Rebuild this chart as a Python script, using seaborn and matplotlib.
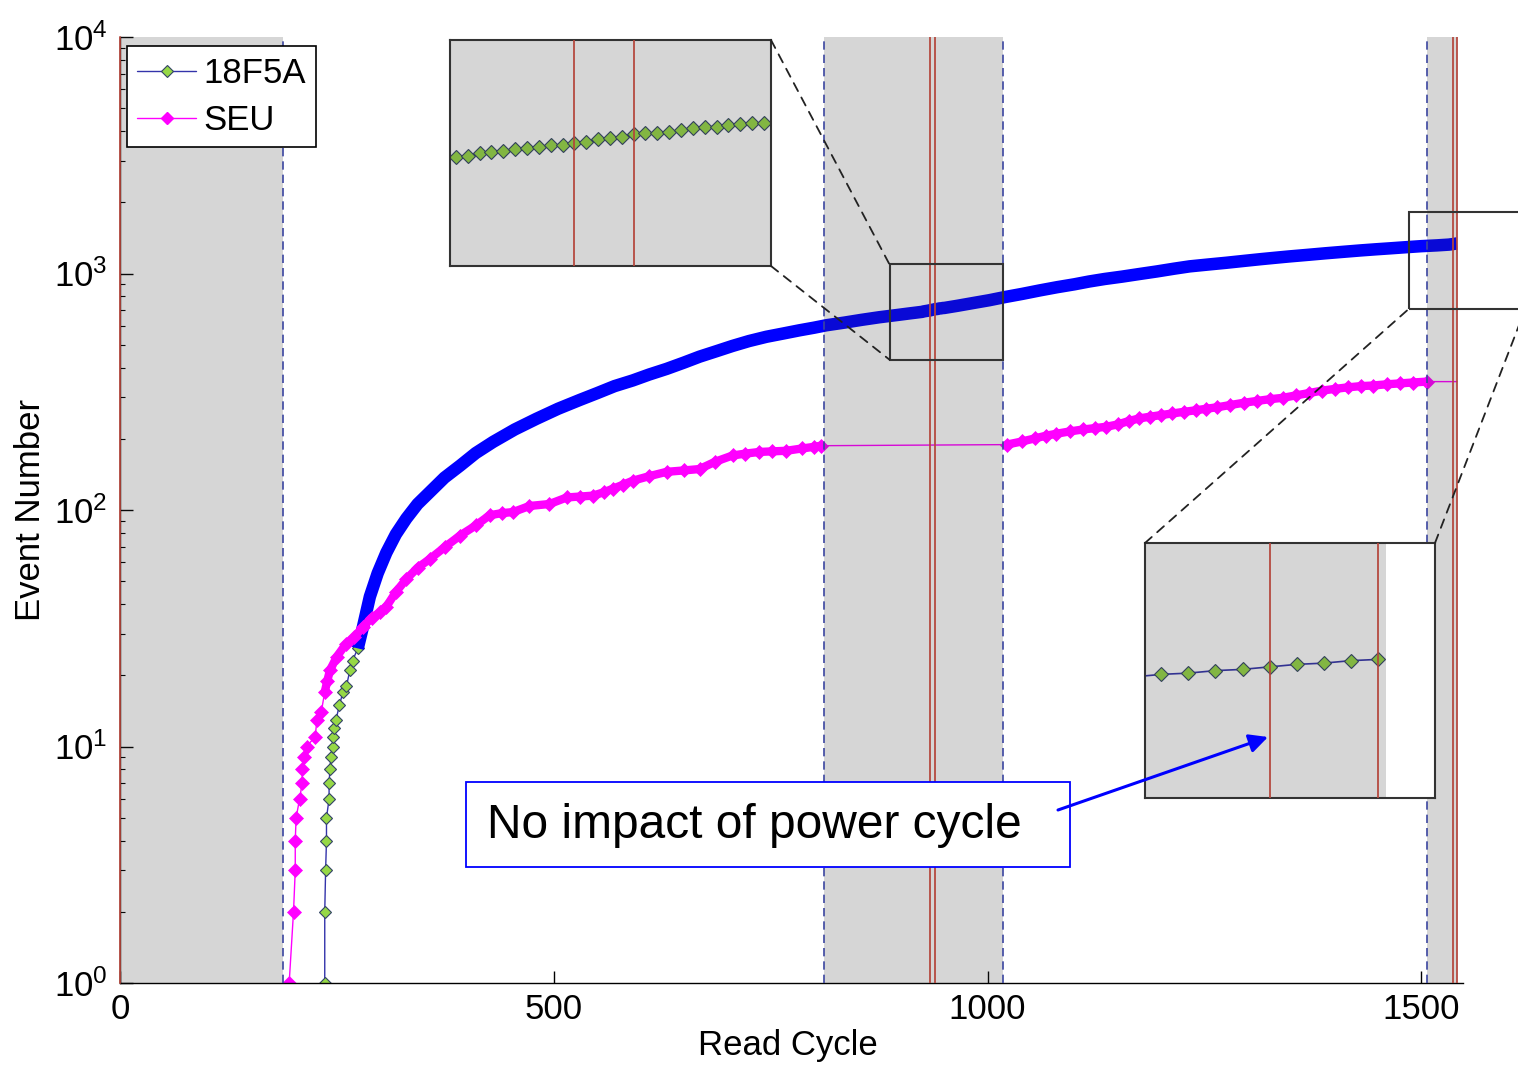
import numpy as np
import pandas as pd
import seaborn as sns
import matplotlib.pyplot as plt
from matplotlib.lines import Line2D
from matplotlib.patches import Rectangle, ConnectionPatch, FancyArrowPatch

sns.set_style("ticks")
plt.rcParams["font.family"] = ["Liberation Sans", "DejaVu Sans"]
plt.rcParams["mathtext.fontset"] = "custom"
plt.rcParams["mathtext.rm"] = "Liberation Sans"
plt.rcParams["mathtext.it"] = "Liberation Sans:italic"
for k in ["text.color", "axes.labelcolor", "xtick.color", "ytick.color"]:
    plt.rcParams[k] = "black"

# 18F5A: cumulative event number per read cycle
f5a_cycle = [236, 236, 237, 238, 238, 241, 241, 242, 243, 245, 246, 247, 249, 253, 257, 261, 265, 268, 274,
             280, 288, 297, 307, 318, 330, 343, 357, 374, 392, 410, 430, 455, 480, 505, 530, 550, 570, 591,
             610, 630, 650, 668, 688, 706, 725, 745, 765, 783, 800, 814, 835, 855, 875, 895, 910,
             924, 925, 926, 927, 928, 929, 930, 931, 932, 933, 934, 935, 936, 937, 938, 939, 940, 941,
             942, 943, 944, 945, 946, 947, 948, 949, 950,
             965, 985, 1002, 1020, 1040, 1060, 1080, 1100, 1117, 1135, 1155, 1175, 1195, 1215, 1233,
             1255, 1275, 1295, 1315, 1333, 1348, 1370, 1390, 1410, 1430, 1448, 1463, 1480, 1500, 1518,
             1532, 1533, 1534, 1535, 1536, 1537, 1538, 1539, 1540, 1541]
f5a_events = [1, 2, 3, 4, 5, 6, 7, 8, 9, 10, 11, 12, 13, 15, 17, 18, 21, 23, 26,
              32, 43, 54, 66, 79, 92, 106, 119, 137, 154, 174, 194, 219, 243, 268, 292, 312, 334, 353,
              374, 395, 420, 445, 470, 494, 518, 540, 558, 575, 590, 604, 620, 637, 653, 667, 678,
              688, 689, 691, 692, 693, 694, 695, 696, 697, 697, 699, 700, 702, 703, 704, 706, 707, 707,
              708, 709, 711, 712, 712, 713, 714, 715, 715,
              730, 752, 771, 795, 820, 848, 875, 900, 925, 948, 970, 995, 1020, 1048, 1072,
              1092, 1110, 1130, 1150, 1167, 1181, 1200, 1218, 1235, 1252, 1266, 1277, 1290, 1305, 1315,
              1325, 1327, 1328, 1330, 1331, 1333, 1335, 1336, 1338, 1339]

# SEU: cumulative upsets
seu_cycle = [195, 200, 202, 202, 203, 207, 210, 210, 212, 215, 225, 227, 232, 236, 239, 242, 250, 260,
             270, 280, 290, 300, 307, 318, 330, 343, 357, 375, 392, 410, 426, 440, 453, 472, 495, 515,
             530, 545, 558, 568, 580, 591, 610, 630, 650, 668, 686, 706, 720, 737, 752, 768, 786, 800,
             808, 1022, 1040, 1055, 1067, 1079, 1095, 1110, 1124, 1137, 1150, 1163, 1175, 1187, 1200,
             1213, 1226, 1240, 1252, 1265, 1280, 1295, 1310, 1325, 1340, 1355, 1370, 1386, 1400, 1415,
             1430, 1444, 1460, 1475, 1490, 1506, 1541]
seu_events = [1, 2, 3, 4, 5, 6, 7, 8, 9, 10, 11, 13, 14, 17, 19, 21, 24, 27,
              29, 32, 35, 37, 39, 45, 51, 57, 62, 70, 78, 86, 95, 97, 98, 104, 106, 113,
              114, 115, 119, 123, 128, 133, 139, 145, 147, 149, 160, 170, 173, 176, 177, 178, 182, 185,
              187, 189, 195, 201, 206, 210, 215, 219, 222, 225, 230, 238, 244, 248, 252,
              256, 260, 264, 268, 272, 278, 284, 289, 294, 298, 305, 312, 320, 325, 330,
              334, 336, 340, 343, 346, 349, 349]

shade_spans = [(0, 188), (811, 1018), (1507, 1541.3)]
boundary_cycles = [188, 811, 1018, 1507]
power_cycles = [0, 934, 939, 1537, 1541]
x_ticks = [0, 500, 1000, 1500]

f5a = pd.DataFrame({"cycle": f5a_cycle, "events": f5a_events})
seu = pd.DataFrame({"cycle": seu_cycle, "events": seu_events})

BLUE_LINE = "#3333aa"
GREEN = "#96d846"
GREEN_EDGE = "#334466"
PINK = "#ff00ff"
RED = "#b4463c"
W, H = 1518, 1065


def decorate(a, dashed=True):
    for lo, hi in shade_spans:
        a.axvspan(lo, hi, color="#323232", alpha=0.2, lw=0, zorder=3)
    if dashed:
        for c in boundary_cycles:
            a.axvline(c, color="#3c46a0", lw=1.2, dashes=(5, 3), zorder=4)
    for c in power_cycles:
        a.axvline(c, color=RED, lw=1.4, alpha=0.9, zorder=4, clip_on=(c != 0))


fig = plt.figure(figsize=(W / 100, H / 100), dpi=100)
ax = fig.add_axes([120 / W, 1 - 983 / H, 1343 / W, 946 / H])
ax.set_yscale("log")

# 18F5A: thin line + green diamonds where the points are sparse, thick band elsewhere
sns.lineplot(data=f5a[f5a["cycle"] <= 280], x="cycle", y="events", estimator=None, sort=False,
             ax=ax, color=BLUE_LINE, linewidth=1, marker="D", markersize=6.5,
             markerfacecolor=GREEN, markeredgecolor=GREEN_EDGE, markeredgewidth=0.8,
             legend=False, zorder=2)
sns.lineplot(data=f5a[f5a["cycle"] >= 274], x="cycle", y="events", estimator=None, sort=False,
             ax=ax, color="#0000ff", linewidth=9, solid_capstyle="butt", legend=False, zorder=2)

# SEU
sns.lineplot(data=seu, x="cycle", y="events", estimator=None, sort=False, ax=ax,
             color=PINK, linewidth=1, marker="D", markersize=7.5,
             markerfacecolor=PINK, markeredgecolor=PINK, markeredgewidth=0.5,
             markevery=list(seu["cycle"] < 1541), legend=False, zorder=2)
for lo, hi in [(236, 808), (1022, 1506)]:
    seg = seu[(seu["cycle"] >= lo) & (seu["cycle"] <= hi)]
    sns.lineplot(data=seg, x="cycle", y="events", estimator=None, sort=False, ax=ax,
                 color=PINK, linewidth=6, legend=False, zorder=2)

decorate(ax)

ax.set_xlim(0, 1548)
ax.set_ylim(1, 1e4)
ax.set_xticks(x_ticks)
ax.set_xticklabels([str(t) for t in x_ticks])
ax.tick_params(axis="both", which="major", direction="in", length=9, width=1,
               labelsize=25, colors="black")
ax.tick_params(axis="x", pad=7)
ax.tick_params(axis="y", pad=9)
ax.tick_params(axis="y", which="minor", direction="in", length=3.5, width=0.8)
ax.tick_params(axis="x", which="minor", bottom=False)
for s in ["top", "right"]:
    ax.spines[s].set_visible(False)
for s in ["left", "bottom"]:
    ax.spines[s].set_color("black")
    ax.spines[s].set_linewidth(1)
ax.set_xlabel("Read Cycle", fontsize=25)
ax.set_ylabel("Event Number", fontsize=25)
ax.xaxis.set_label_coords(0.497, -0.049)
ax.yaxis.set_label_coords(-0.054, 0.5)

handles = [
    Line2D([], [], color=BLUE_LINE, lw=1, marker="D", markersize=6.5,
           markerfacecolor=GREEN, markeredgecolor=GREEN_EDGE, markeredgewidth=0.8),
    Line2D([], [], color=PINK, lw=1, marker="D", markersize=6.5,
           markerfacecolor=PINK, markeredgecolor=PINK),
]
leg = ax.legend(handles, ["18F5A", "SEU"], loc="upper left", bbox_to_anchor=(0.005, 0.99),
                fontsize=25, frameon=True, fancybox=False, edgecolor="black", framealpha=1,
                handlelength=1.7, handletextpad=0.2, borderpad=0.3, labelspacing=0.4,
                borderaxespad=0)
leg.get_frame().set_linewidth(1.2)
leg.set_zorder(6)

# zoom rectangles on the main axes
zoom_boxes = [((887, 1018), (432, 1092)), ((1486, 1620), (711, 1812))]
for (x0, x1), (y0, y1) in zoom_boxes:
    ax.add_patch(Rectangle((x0, y0), x1 - x0, y1 - y0, fill=False, ec="#333333",
                           lw=1.5, zorder=6, clip_on=False))

# inset views
inset_specs = [
    ([450 / W, 1 - 266 / H, 321 / W, 226 / H], (923.5, 950.6), (608, 785.5)),
    ([1145 / W, 1 - 798 / H, 290 / W, 255 / H], (1532.4, 1543.1), (1232, 1436)),
]
insets = []
for rect, xl, yl in inset_specs:
    ai = fig.add_axes(rect)
    ai.set_yscale("log")
    sns.lineplot(data=f5a, x="cycle", y="events", estimator=None, sort=False, ax=ai,
                 color=BLUE_LINE, linewidth=1.2, marker="D", markersize=7,
                 markerfacecolor=GREEN, markeredgecolor=GREEN_EDGE, markeredgewidth=0.8,
                 legend=False, zorder=2)
    decorate(ai, dashed=False)
    ai.set_xlim(*xl)
    ai.set_ylim(*yl)
    ai.set_xticks([])
    ai.set_yticks([])
    ai.minorticks_off()
    ai.set_xlabel("")
    ai.set_ylabel("")
    for s in ai.spines.values():
        s.set_visible(True)
        s.set_color("#333333")
        s.set_linewidth(1.5)
    insets.append(ai)

dash = dict(linestyle=(0, (5, 4)), color="#222222", lw=1.3, zorder=7)
conns = [
    ((1, 1), insets[0], (887, 1092)),
    ((1, 0), insets[0], (887, 432)),
    ((0, 1), insets[1], (1486, 711)),
    ((1, 1), insets[1], (1620, 711)),
]
for xyA, ai, xyB in conns:
    fig.add_artist(ConnectionPatch(xyA=xyA, coordsA=ai.transAxes, xyB=xyB,
                                   coordsB=ax.transData, **dash))

# annotation box + arrow
fig.add_artist(Rectangle((466 / W, 1 - 867 / H), 604 / W, 85 / H, transform=fig.transFigure,
                         fc="white", ec="#0000ff", lw=1.3, zorder=8))
fig.text(487 / W, 1 - 825 / H, "No impact of power cycle", fontsize=34.5,
         ha="left", va="center", zorder=9)
fig.add_artist(FancyArrowPatch((1058 / W, 1 - 810 / H), (1268 / W, 1 - 737 / H),
                               transform=fig.transFigure, arrowstyle="-|>", mutation_scale=28,
                               color="#0000ff", lw=2.2, shrinkA=0, shrinkB=0, zorder=10))

fig.savefig("out.png", dpi=100)
